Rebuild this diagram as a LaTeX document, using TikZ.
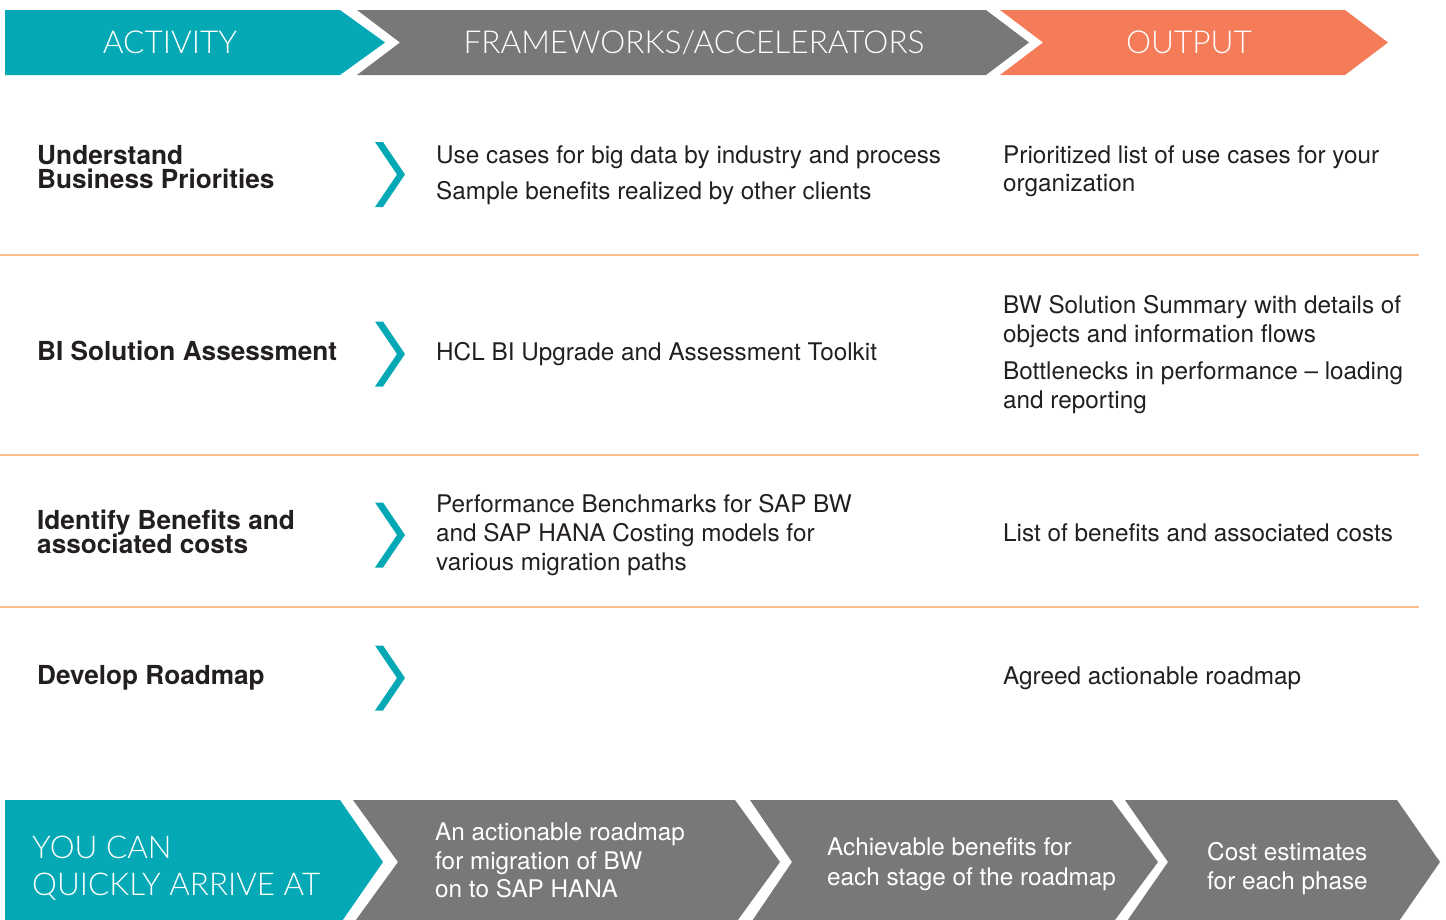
\documentclass[tikz,border=0pt]{standalone}
\usepackage{fontspec}
\setmainfont{TeX Gyre Heros}
\newfontfamily\headfont{Lato Light}
\definecolor{hclteal}{HTML}{05A9B5}
\definecolor{hclgray}{HTML}{787878}
\definecolor{hclorange}{HTML}{F47C58}
\definecolor{sepcol}{HTML}{F9BE8F}
\definecolor{ink}{HTML}{231F20}
\tikzset{
  bodytext/.style={anchor=base west, inner sep=0pt, text=ink, font=\fontsize{24.3}{29}\selectfont},
  boldtext/.style={anchor=base west, inner sep=0pt, text=ink, font=\fontsize{26.2}{24}\selectfont\bfseries},
  headtext/.style={anchor=base, inner sep=0pt, text=white, font=\headfont\fontsize{31.6}{36}\selectfont},
  youtext/.style={anchor=base west, inner sep=0pt, text=white, font=\headfont\fontsize{31.4}{36}\selectfont},
  boxtext/.style={anchor=base west, inner sep=0pt, text=white, font=\fontsize{24.3}{29}\selectfont},
  sepline/.style={draw=sepcol, line width=1.6pt},
  chevicon/.pic={\fill[hclteal] (-15,-32.5) -- (-7,-32.5) -- (15,0) -- (-7,32.5) -- (-15,32.5) -- (7,0) -- cycle;}
}
\begin{document}
\begin{tikzpicture}[x=1pt,y=-1pt]
\useasboundingbox (0,0) rectangle (1446,919);
\clip (0,0) rectangle (1446,919);
% header
\fill[hclteal] (5,10) -- (340,10) -- (385,42.5) -- (340,75) -- (5,75) -- cycle;
\fill[hclgray] (357,10) -- (986,10) -- (1029,42.5) -- (986,75) -- (357,75) -- (400,42.5) -- cycle;
\fill[hclorange] (1000,10) -- (1345,10) -- (1388,42.5) -- (1345,75) -- (1000,75) -- (1043,42.5) -- cycle;
\node[headtext] (hact) at (170,53) {ACTIVITY};
\node[headtext] (hfw) at (694,53) {FRAMEWORKS/ACCELERATORS};
\node[headtext] (hout) at (1189,53) {OUTPUT};
% separators
\draw[sepline] (0,255) -- (1419,255);
\draw[sepline] (0,455) -- (1419,455);
\draw[sepline] (0,607) -- (1419,607);
% chevron icons
\pic at (390,174.5) {chevicon};
\pic at (390,354) {chevicon};
\pic at (390,535) {chevicon};
\pic at (390,678) {chevicon};
% row 1
\node[boldtext] (a1a) at (37,164) {Understand};
\node[boldtext] (a1b) at (37,188) {Business Priorities};
\node[bodytext] (f1a) at (436,163.5) {Use cases for big data by industry and process};
\node[bodytext] (f1b) at (436,199.5) {Sample benefits realized by other clients};
\node[bodytext] (o1a) at (1003,163.5) {Prioritized list of use cases for your};
\node[bodytext] (o1b) at (1003,191.5) {organization};
% row 2
\node[boldtext] (a2) at (37,360) {BI Solution Assessment};
\node[bodytext] (f2) at (436,360.5) {HCL BI Upgrade and Assessment Toolkit};
\node[bodytext] (o2a) at (1003,313.5) {BW Solution Summary with details of};
\node[bodytext] (o2b) at (1003,342.5) {objects and information flows};
\node[bodytext] (o2c) at (1003,379.5) {Bottlenecks in performance – loading};
\node[bodytext] (o2d) at (1003,408.5) {and reporting};
% row 3
\node[boldtext] (a3a) at (37,529) {Identify Benefits and};
\node[boldtext] (a3b) at (37,553) {associated costs};
\node[bodytext] (f3a) at (436,512) {Performance Benchmarks for SAP BW};
\node[bodytext] (f3b) at (436,541.5) {and SAP HANA Costing models for};
\node[bodytext] (f3c) at (436,570.5) {various migration paths};
\node[bodytext] (o3) at (1003,541.5) {List of benefits and associated costs};
% row 4
\node[boldtext] (a4) at (37,684) {Develop Roadmap};
\node[bodytext] (o4) at (1003,684.5) {Agreed actionable roadmap};
% bottom band
\fill[hclteal] (5,800) -- (340,800) -- (383,862) -- (340,924) -- (5,924) -- cycle;
\fill[hclgray] (353,800) -- (735,800) -- (780,862) -- (735,924) -- (353,924) -- (398,862) -- cycle;
\fill[hclgray] (750,800) -- (1112,800) -- (1158,862) -- (1112,924) -- (750,924) -- (792,862) -- cycle;
\fill[hclgray] (1125,800) -- (1397,800) -- (1440,862) -- (1397,924) -- (1125,924) -- (1168,862) -- cycle;
\node[youtext] (y1) at (32,858) {YOU CAN};
\node[youtext] (y2) at (32,895) {QUICKLY ARRIVE AT};
\node[boxtext] (b1a) at (435,840) {An actionable roadmap};
\node[boxtext] (b1b) at (435,869) {for migration of BW};
\node[boxtext] (b1c) at (435,897) {on to SAP HANA};
\node[boxtext] (b2a) at (827,855) {Achievable benefits for};
\node[boxtext] (b2b) at (827,885) {each stage of the roadmap};
\node[boxtext] (b3a) at (1207,860) {Cost estimates};
\node[boxtext] (b3b) at (1207,889) {for each phase};
\end{tikzpicture}
\end{document}
